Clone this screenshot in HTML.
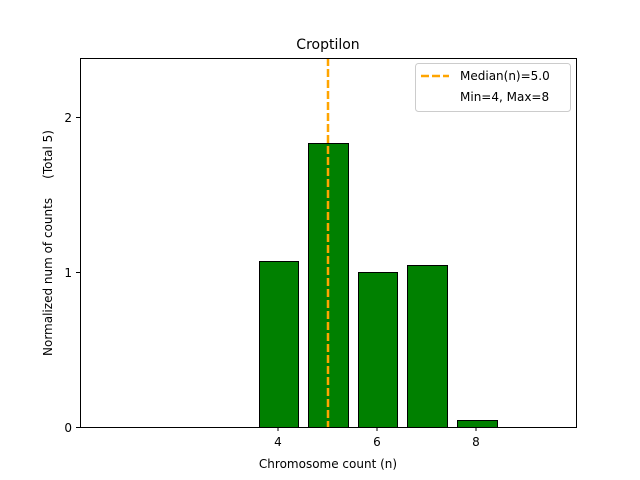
<!DOCTYPE html>
<html><head><style>body{margin:0;background:#fff}svg{display:block}</style></head><body>
<svg width="640" height="480" xmlns="http://www.w3.org/2000/svg" font-family="DejaVu Sans, Liberation Sans, sans-serif">
<rect width="640" height="480" fill="#fff"/>
<g fill="#008000" stroke="#000" stroke-width="1">
<rect x="259.5" y="261.5" width="39" height="166"/>
<rect x="308.5" y="143.5" width="40" height="284"/>
<rect x="358.5" y="272.5" width="39" height="155"/>
<rect x="407.5" y="265.5" width="40" height="162"/>
<rect x="457.5" y="420.5" width="40" height="7"/>
</g>
<line x1="328" y1="58" x2="328" y2="427" stroke="#ffa500" stroke-width="2.5" stroke-dasharray="8,3"/>
<rect x="80.5" y="58.5" width="496" height="369" fill="none" stroke="#000" stroke-width="1"/>
<g stroke="#000"><line x1="278" y1="427" x2="278" y2="431"/><line x1="377" y1="427" x2="377" y2="431"/><line x1="476" y1="427" x2="476" y2="431"/>
<line x1="80" y1="427.5" x2="76" y2="427.5"/><line x1="80" y1="272.5" x2="76" y2="272.5"/><line x1="80" y1="117.5" x2="76" y2="117.5"/></g>
<g font-size="12" fill="#000"><text x="278" y="446" text-anchor="middle">4</text><text x="377" y="446" text-anchor="middle">6</text><text x="476" y="446" text-anchor="middle">8</text>
<text x="72" y="432" text-anchor="end">0</text><text x="72" y="277" text-anchor="end">1</text><text x="72" y="122" text-anchor="end">2</text>
<text x="328" y="468" text-anchor="middle">Chromosome count (n)</text>
<text transform="translate(52,243) rotate(-90)" text-anchor="middle" xml:space="preserve">Normalized num of counts     (Total 5)</text></g>
<text x="328" y="49" font-size="14" text-anchor="middle">Croptilon</text>
<rect x="415.5" y="63.5" width="155" height="48" rx="3" fill="#fff" stroke="#ccc"/>
<line x1="421" y1="76" x2="449" y2="76" stroke="#ffa500" stroke-width="2.5" stroke-dasharray="8,3"/>
<text x="460" y="80" font-size="12">Median(n)=5.0</text>
<text x="460" y="101" font-size="12">Min=4, Max=8</text>
</svg></body></html>
